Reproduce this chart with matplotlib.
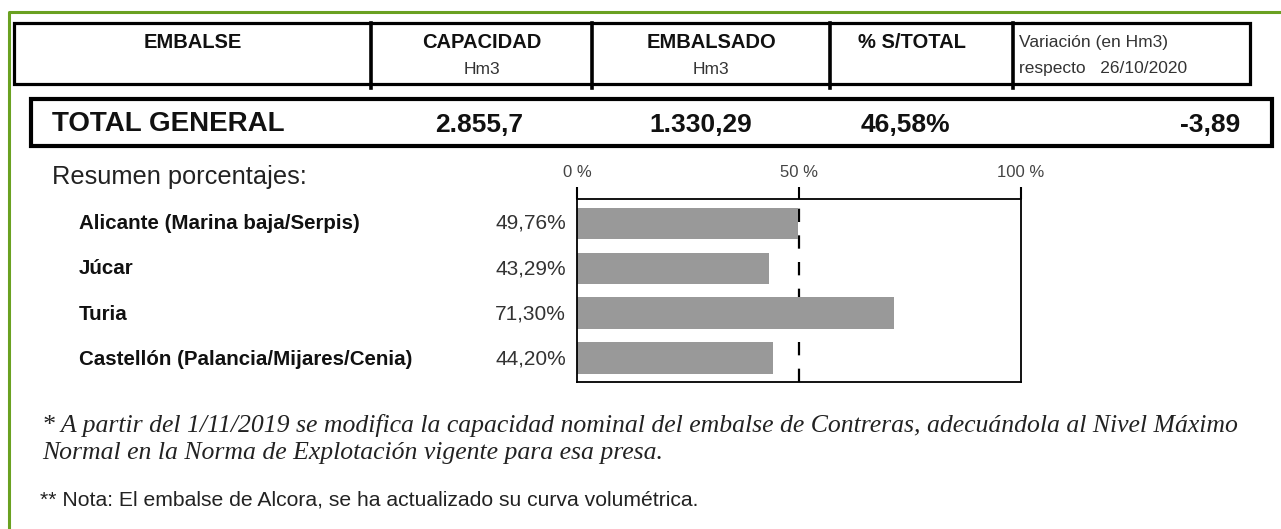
import matplotlib
matplotlib.use("Agg")
import matplotlib.pyplot as plt
from matplotlib.patches import Rectangle

W, H = 1281, 529

# ---- data ----
header_titles = ["EMBALSE", "CAPACIDAD", "EMBALSADO", "% S/TOTAL"]
header_units = ["", "Hm3", "Hm3", ""]
variation_lines = ["Variación (en Hm3)", "respecto   26/10/2020"]
total_label = "TOTAL GENERAL"
total_values = ["2.855,7", "1.330,29", "46,58%"]
total_variation = "-3,89"

categories = ["Alicante (Marina baja/Serpis)", "Júcar", "Turia",
              "Castellón (Palancia/Mijares/Cenia)"]
percentages = [49.76, 43.29, 71.30, 44.20]
pct_labels = ["49,76%", "43,29%", "71,30%", "44,20%"]
axis_ticks = [0, 50, 100]
axis_tick_labels = ["0 %", "50 %", "100 %"]

note1 = ("* A partir del 1/11/2019 se modifica la capacidad nominal del embalse de Contreras, "
         "adecuándola al Nivel Máximo\nNormal en la Norma de Explotación vigente para esa presa.")
note2 = "** Nota: El embalse de Alcora, se ha actualizado su curva volumétrica."

SANS = ["Liberation Sans", "DejaVu Sans"]
SERIF = ["Liberation Serif", "DejaVu Serif"]

fig = plt.figure(figsize=(W / 100, H / 100), dpi=100)
bg = fig.add_axes([0, 0, 1, 1])
bg.set_xlim(0, W); bg.set_ylim(H, 0); bg.axis("off")

# green frame (top + left)
bg.plot([9, 9, W], [H, 11.5, 11.5], color="#6aa121", lw=2.2, solid_capstyle="butt")

# ---- header table ----
cols = [14, 371, 592, 830, 1013, 1250]
bg.add_patch(Rectangle((cols[0], 23), cols[-1] - cols[0], 61, fill=False, ec="black", lw=2.3))
for x in cols[1:-1]:
    bg.plot([x, x], [23, 88], color="black", lw=2.6)
for i, (t, u) in enumerate(zip(header_titles, header_units)):
    cx = (cols[i] + cols[i + 1]) / 2 - (10 if i == 3 else 0)
    bg.text(cx, 42, t, ha="center", va="center", fontsize=14.5, fontweight="bold",
            color="#111111", family=SANS)
    if u:
        bg.text(cx, 69, u, ha="center", va="center", fontsize=12.5, color="#333333", family=SANS)
bg.text(1019, 42, variation_lines[0], ha="left", va="center", fontsize=12.5, color="#333333", family=SANS)
bg.text(1019, 69, variation_lines[1], ha="left", va="center", fontsize=12.5, color="#333333", family=SANS)

# ---- total row ----
bg.add_patch(Rectangle((31, 99), 1241, 47, fill=False, ec="black", lw=3))
bg.text(52, 124, total_label, ha="left", va="center", fontsize=20, fontweight="bold",
        color="#111111", family=SANS)
for cx, v in zip([479, 701, 905], total_values):
    bg.text(cx, 125, v, ha="center", va="center", fontsize=19, fontweight="bold",
            color="#111111", family=SANS)
bg.text(1240, 125, total_variation, ha="right", va="center", fontsize=19, fontweight="bold",
        color="#111111", family=SANS)

# ---- summary bars ----
bg.text(52, 177, "Resumen porcentajes:", ha="left", va="center", fontsize=18.3,
        color="#222222", family=SANS)

x0, x1, y0, y1 = 577, 1021, 199, 382
ax = fig.add_axes([x0 / W, 1 - y1 / H, (x1 - x0) / W, (y1 - y0) / H])
ypos = list(range(len(categories)))
ax.axvline(50, color="black", lw=1.6, ls=(0, (6, 6)), zorder=1)
ax.barh(ypos, percentages, height=0.7, color="#999999", zorder=2)
ax.set_xlim(0, 100)
ax.set_ylim(3.53, -0.54)
ax.set_xticks(axis_ticks)
ax.set_xticklabels(axis_tick_labels, family=SANS, fontsize=12, color="#444444")
ax.xaxis.tick_top()
ax.tick_params(axis="x", direction="out", length=9, width=1.5, pad=5)
ax.set_yticks([])
for s in ax.spines.values():
    s.set_linewidth(1.3)

for i, (c, p) in enumerate(zip(categories, pct_labels)):
    yy = y0 + (i + 0.54) * 45.3
    bg.text(79, yy, c, ha="left", va="center", fontsize=14.8, fontweight="bold",
            color="#111111", family=SANS)
    bg.text(566, yy, p, ha="right", va="center", fontsize=15, color="#333333", family=SANS)

# ---- notes ----
bg.text(42, 439, note1, ha="left", va="center", fontsize=18.5, style="italic",
        color="#222222", family=SERIF, linespacing=1.25)
bg.text(40, 500, note2, ha="left", va="center", fontsize=15.2, color="#222222", family=SANS)

fig.savefig("out.png", dpi=100)
